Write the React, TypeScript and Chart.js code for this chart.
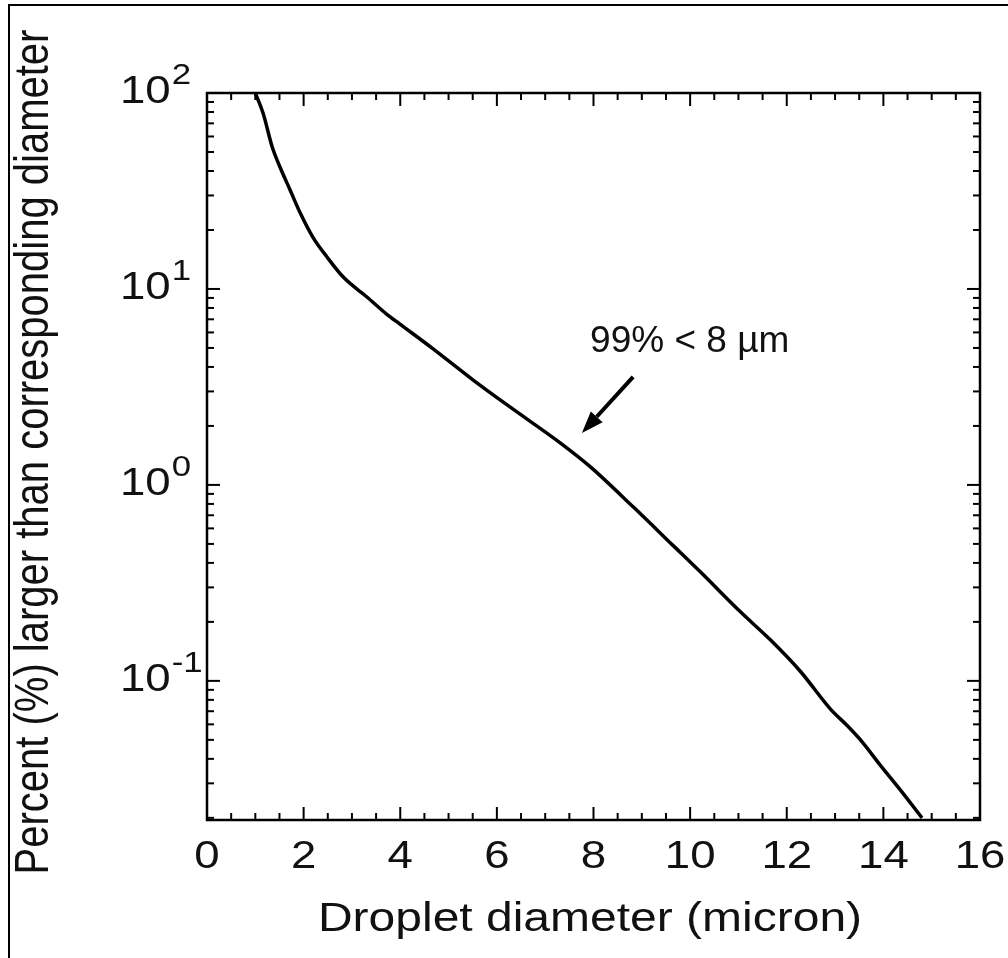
import React, { useEffect, useRef } from "react";
import { Chart, registerables } from "chart.js";

Chart.register(...registerables);

// ---- Data ----
const diameters = [
  1.0, 1.16, 1.35, 1.51, 1.72, 1.93, 2.19, 2.48, 2.82, 3.31, 3.73, 4.0, 4.68,
  5.51, 6.27, 7.31, 7.93, 8.82, 9.65, 10.21, 11.04, 11.66, 12.28, 12.9, 13.27,
  13.56, 13.93, 14.35, 14.8,
];
const percents = [
  100, 79, 53, 41.9, 32, 24.4, 18.4, 14.6, 11.5, 9.1, 7.4, 6.6, 4.95, 3.43,
  2.5, 1.64, 1.24, 0.773, 0.49, 0.36, 0.225, 0.162, 0.112, 0.072, 0.0585,
  0.0489, 0.0373, 0.0278, 0.02,
];

const xMajorTicks = [0, 2, 4, 6, 8, 10, 12, 14, 16];
const xTickLabels = ["0", "2", "4", "6", "8", "10", "12", "14", "16"];
const yDecadeTicks = [0.1, 1, 10, 100];
const yTickExponents = ["-1", "0", "1", "2"];

const xTitle = "Droplet diameter (micron)";
const yTitle = "Percent (%) larger than corresponding diameter";
const annotationText = "99% < 8 µm";
const annotationAt = { x: 7.93, y: 4.77 };
const arrowTail = { x: 8.82, y: 3.56 };
const arrowTip = { x: 7.76, y: 1.84 };

const X_MIN = 0;
const X_MAX = 16;
const Y_MIN = 0.0195;
const Y_MAX = 100;

const FONT = '"Liberation Sans", Arial, Helvetica, sans-serif';
const STRETCH = 1.2;

function stretchedText(
  ctx: CanvasRenderingContext2D,
  text: string,
  x: number,
  y: number,
  size: number,
  align: CanvasTextAlign,
  sx = STRETCH
) {
  ctx.save();
  ctx.translate(x, y);
  ctx.scale(sx, 1);
  ctx.font = `${size}px ${FONT}`;
  ctx.textAlign = align;
  ctx.textBaseline = "alphabetic";
  ctx.fillText(text, 0, 0);
  ctx.restore();
}

const axesPlugin = {
  id: "axesPlugin",
  afterDraw(chart: any) {
    const ctx: CanvasRenderingContext2D = chart.ctx;
    const { left, right, top, bottom } = chart.chartArea;
    const xs = chart.scales.x;
    const ys = chart.scales.y;
    ctx.save();
    ctx.strokeStyle = "#000";
    ctx.fillStyle = "#111";
    ctx.lineCap = "butt";

    // frame
    ctx.lineWidth = 2.5;
    ctx.strokeRect(left, top, right - left, bottom - top);

    const seg = (x1: number, y1: number, x2: number, y2: number) => {
      ctx.beginPath();
      ctx.moveTo(x1, y1);
      ctx.lineTo(x2, y2);
      ctx.stroke();
    };

    // x ticks (inward, bottom and top)
    ctx.lineWidth = 2;
    for (let i = 0; i <= (X_MAX - X_MIN) * 2; i++) {
      const v = X_MIN + i * 0.5;
      const px = xs.getPixelForValue(v);
      const major = i % 4 === 0;
      const len = major ? 13 : 7;
      seg(px, bottom, px, bottom - len);
      seg(px, top, px, top + len);
    }

    // y ticks (inward, left and right)
    const yMinor: number[] = [];
    [0.01, 0.1, 1, 10].forEach((d) => {
      for (let m = 2; m <= 9; m++) {
        const v = d * m;
        if (v >= Y_MIN && v <= Y_MAX) yMinor.push(v);
      }
    });
    yMinor.forEach((v) => {
      const py = ys.getPixelForValue(v);
      seg(left, py, left + 7, py);
      seg(right, py, right - 7, py);
    });
    yDecadeTicks.forEach((v) => {
      const py = ys.getPixelForValue(v);
      seg(left, py, left + 13, py);
      seg(right, py, right - 13, py);
    });

    // x tick labels
    xMajorTicks.forEach((v, i) => {
      const px = xs.getPixelForValue(v);
      stretchedText(ctx, xTickLabels[i], px, 868, 38, "center");
    });

    // y tick labels 10^n
    yDecadeTicks.forEach((v, i) => {
      const py = ys.getPixelForValue(v);
      const base = py + 10;
      const x0 = 120;
      stretchedText(ctx, "10", x0, base, 38, "left");
      ctx.font = `38px ${FONT}`;
      const w = ctx.measureText("10").width * STRETCH;
      stretchedText(ctx, yTickExponents[i], x0 + w + 1, base - 19, 29, "left");
    });

    // axis titles
    stretchedText(ctx, xTitle, 590, 931, 40, "center");
    ctx.save();
    ctx.translate(48, 452);
    ctx.rotate(-Math.PI / 2);
    ctx.scale(1, STRETCH);
    ctx.font = `40px ${FONT}`;
    ctx.textAlign = "center";
    ctx.textBaseline = "alphabetic";
    ctx.fillText(yTitle, 0, 0);
    ctx.restore();

    // annotation text
    ctx.font = `37px ${FONT}`;
    ctx.textAlign = "left";
    ctx.textBaseline = "alphabetic";
    ctx.fillText(
      annotationText,
      xs.getPixelForValue(annotationAt.x),
      ys.getPixelForValue(annotationAt.y)
    );

    // arrow
    const tx = xs.getPixelForValue(arrowTail.x);
    const ty = ys.getPixelForValue(arrowTail.y);
    const hx = xs.getPixelForValue(arrowTip.x);
    const hy = ys.getPixelForValue(arrowTip.y);
    const ang = Math.atan2(hy - ty, hx - tx);
    const headLen = 22;
    const headHalf = 8;
    const bx = hx - headLen * Math.cos(ang);
    const by = hy - headLen * Math.sin(ang);
    ctx.lineWidth = 4;
    ctx.strokeStyle = "#000";
    seg(tx, ty, bx, by);
    ctx.fillStyle = "#000";
    ctx.beginPath();
    ctx.moveTo(hx, hy);
    ctx.lineTo(bx + headHalf * Math.sin(ang), by - headHalf * Math.cos(ang));
    ctx.lineTo(bx - headHalf * Math.sin(ang), by + headHalf * Math.cos(ang));
    ctx.closePath();
    ctx.fill();

    ctx.restore();
  },
};

export default function App() {
  const ref = useRef<HTMLCanvasElement>(null);
  useEffect(() => {
    const canvas = ref.current;
    if (!canvas) return;
    const chart = new Chart(canvas, {
      type: "line",
      data: {
        datasets: [
          {
            data: diameters.map((d, i) => ({ x: d, y: percents[i] })),
            borderColor: "#000",
            borderWidth: 3.5,
            pointRadius: 0,
            fill: false,
            cubicInterpolationMode: "monotone",
          },
        ],
      },
      options: {
        responsive: false,
        animation: false,
        devicePixelRatio: 1,
        layout: { padding: { left: 207, right: 28, top: 93, bottom: 138 } },
        plugins: { legend: { display: false }, tooltip: { enabled: false } },
        scales: {
          x: { type: "linear", min: X_MIN, max: X_MAX, display: false },
          y: { type: "logarithmic", min: Y_MIN, max: Y_MAX, display: false },
        },
      },
      plugins: [axesPlugin],
    } as any);
    return () => chart.destroy();
  }, []);

  return (
    <div
      style={{
        position: "fixed",
        left: 0,
        top: 0,
        width: 1008,
        height: 958,
        background: "#fff",
        overflow: "hidden",
      }}
    >
      <canvas
        ref={ref}
        width={1008}
        height={958}
        style={{ position: "absolute", left: 0, top: 0, width: 1008, height: 958 }}
      />
      <div
        style={{
          position: "absolute",
          left: 8,
          top: 4,
          width: 1000,
          height: 954,
          borderTop: "2px solid #000",
          borderLeft: "2px solid #000",
          boxSizing: "border-box",
          pointerEvents: "none",
        }}
      />
    </div>
  );
}
